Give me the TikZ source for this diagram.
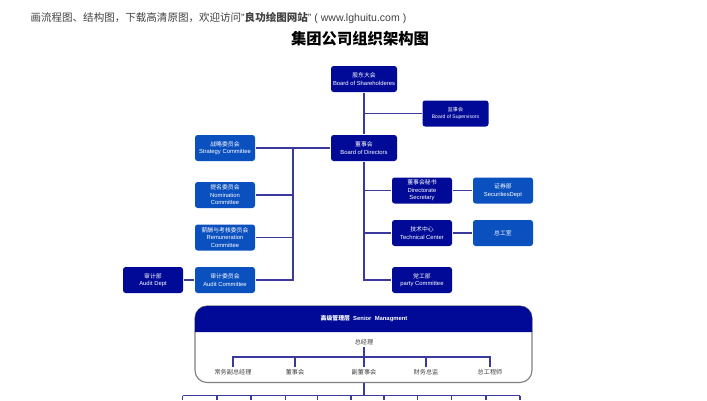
\documentclass[tikz,border=0pt]{standalone}
\usepackage{fontspec}
\setmainfont{Liberation Sans}
\newfontfamily\cjk{Noto Sans CJK SC}
\usetikzlibrary{positioning}
\usetikzlibrary{calc}
\definecolor{navybox}{HTML}{000A96}
\definecolor{bluebox}{HTML}{0A50BE}
\definecolor{linkline}{HTML}{3A3A9E}
\tikzset{every picture/.style={line width=0.85pt},
navy/.style={rounded corners=2pt,fill=navybox,text=white,minimum width=45pt,minimum height=19.5pt,inner sep=0pt,align=center,font=\fontsize{4.4}{5.6}\selectfont},
blue/.style={navy,fill=bluebox},
wide/.style={navy,minimum width=49.5pt},
staff/.style={font=\cjk\fontsize{4.6}{6}\selectfont,text=black!75,inner sep=1pt}}
\newcommand{\zh}[1]{{\cjk #1}}
\begin{document}
\begin{tikzpicture}[x=0.75pt,y=-0.75pt]
\useasboundingbox (0,0) rectangle (707,400);
\node (ad) at (30,18) [anchor=west,inner sep=0pt,font=\fontsize{7.9}{10}\selectfont,text=black!75] {\zh{画流程图、结构图，下载高清原图，欢迎访问}"\zh{\textbf{良功绘图网站}}" ( www.lghuitu.com )};
\node (title) at (360,39) [font=\cjk\bfseries\fontsize{11.5}{14}\selectfont] {集团公司组织架构图};

\node (holders) at (364,79) [wide] {\zh{股东大会}\\Board of Shareholderes};
\node (super) at (455.5,113.5) [wide,font=\fontsize{3.8}{5.6}\selectfont] {\zh{监事会}\\Board of Supervisors};
\node (board) at (364,148) [wide] {\zh{董事会}\\Board of Directors};

\node (strategy) at (225,148) [blue] {\zh{战略委员会}\\Strategy Committee};
\node (nomin) at (225,195) [blue] {\zh{提名委员会}\\Nomination\\Committee};
\node (remun) at (225,237.5) [blue] {\zh{薪酬与考核委员会}\\Remuneration\\Committee};
\node (auditc) at (225,280) [blue] {\zh{审计委员会}\\Audit Committee};
\node (auditd) at (153,280) [navy] {\zh{审计部}\\Audit Dept};

\node (secy) at (422,190.5) [navy] {\zh{董事会秘书}\\Directorate\\Secretary};
\node (tech) at (422,233) [navy] {\zh{技术中心}\\Technical Center};
\node (party) at (422,280) [navy] {\zh{党工部}\\party Committee};
\node (secu) at (503,190.5) [blue] {\zh{证券部}\\SecuritiesDept};
\node (office) at (503,233) [blue] {\zh{总工室}};

\coordinate (trunk) at (293,148);
\draw[linkline] (holders) -- (board);
\draw[linkline] (holders |- super) -- (super);
\draw[linkline] (strategy) -- (board);
\draw[linkline] (trunk) -- (trunk |- auditc) -- (auditc);
\draw[linkline] (nomin) -- (trunk |- nomin);
\draw[linkline] (remun) -- (trunk |- remun);
\draw[linkline] (auditd) -- (auditc);
\draw[linkline] (board) -- (board |- party) -- (party);
\draw[linkline] (board |- secy) -- (secy);
\draw[linkline] (board |- tech) -- (tech);
\draw[linkline] (secy) -- (secu);
\draw[linkline] (tech) -- (office);

% senior management panel
\draw[black!50,fill=white,rounded corners=9pt] (195,306) rectangle (532,382.5);
\fill[navybox,rounded corners=9pt] (195,332) [sharp corners] -- (195,332) [rounded corners=9pt] -- (195,306) -- (532,306) [sharp corners] -- (532,332) -- cycle;
\node (senior) at (364,319) [text=white,font=\bfseries\fontsize{4.4}{6}\selectfont] {\zh{高级管理层}\ \ Senior\ \ Managment};
\node (gm) at (364,342) [staff] {总经理};
\node (s1) at (233,372) [staff] {常务副总经理};
\node (s2) at (295,372) [staff] {董事会};
\node (s3) at (364,372) [staff] {副董事会};
\node (s4) at (426,372) [staff] {财务总监};
\node (s5) at (490,372) [staff] {总工程师};
\coordinate (bar) at (364,357);
\draw[linkline] (gm) -- (s3);
\draw[linkline] (s1.north) -- (s1.north |- bar) -- (s5.north |- bar) -- (s5.north);
\draw[linkline] (s2.north) -- (s2.north |- bar);
\draw[linkline] (s4.north) -- (s4.north |- bar);

% row cut off by the page edge
\coordinate (low) at (364,395.5);
\draw[linkline] (364,382.5) -- (low);
\draw[linkline] (182.7,395.5) -- (520,395.5);
\foreach \x in {182.7,217,251,285.5,317.5,351,384,417.5,451.5,486,520}
  \draw[linkline] (\x,395.5) -- (\x,400);
\end{tikzpicture}
\end{document}
